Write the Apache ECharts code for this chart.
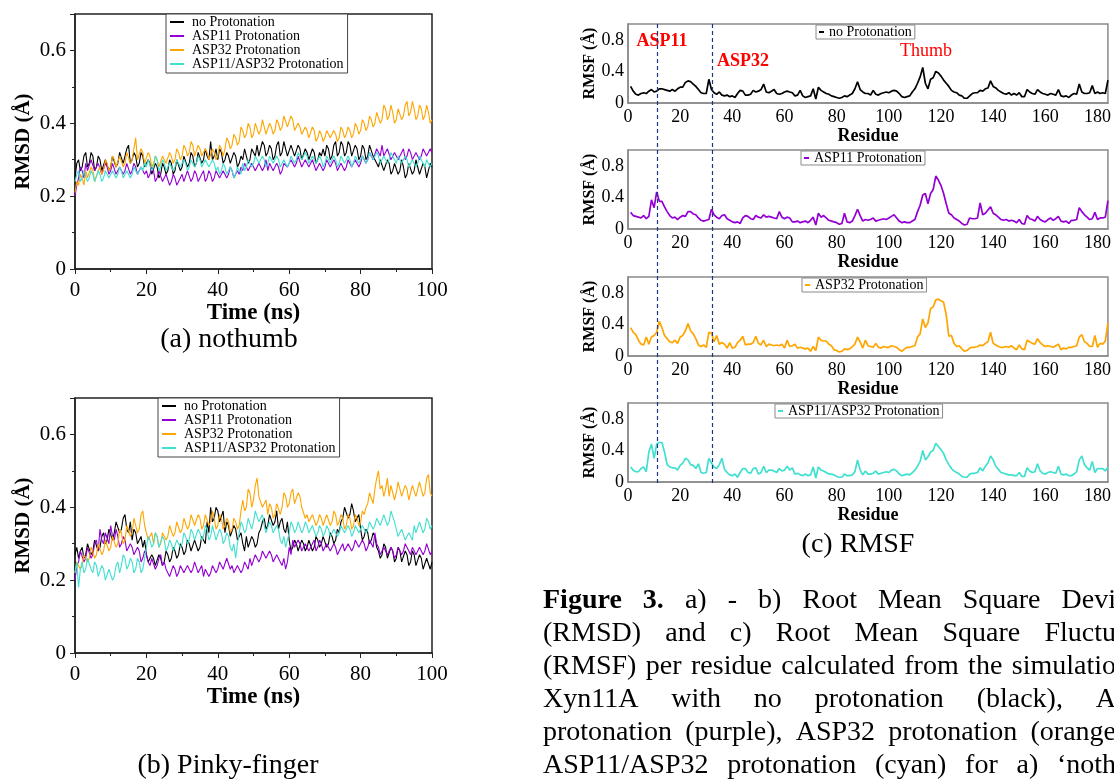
<!DOCTYPE html>
<html><head><meta charset="utf-8">
<script src="https://cdn.jsdelivr.net/npm/echarts@6/dist/echarts.min.js"></script>
<style>html,body{margin:0;padding:0;background:#fff}#c{width:1114px;height:780px}</style>
</head><body><div id="c"></div>
<script>
// ---------- DATA ----------
const seriesNames = ['no Protonation','ASP11 Protonation','ASP32 Protonation','ASP11/ASP32 Protonation'];
const timeNs = Array.from({length:201},(_,i)=>i/2);    // sampling grid, every 0.5 ns
const residues = Array.from({length:184},(_,i)=>i+1);  // residue numbers

// (a) nothumb RMSD (Å)
const rmsdA_none = [.25,.29,.30,.27,.28,.31,.32,.28,.29,.32,.31,.27,.28,.31,.30,.27,.27,.30,.30,.27,
 .28,.31,.31,.28,.29,.32,.32,.29,.29,.33,.34,.29,.30,.32,.31,.28,.29,.32,.31,.28,
 .28,.30,.29,.26,.26,.29,.28,.25,.26,.29,.28,.26,.27,.30,.29,.26,.27,.30,.30,.27,
 .28,.31,.31,.28,.29,.32,.31,.28,.29,.32,.32,.29,.30,.33,.31,.30,.35,.30,.31,.33,
 .30,.33,.32,.29,.30,.32,.31,.29,.29,.32,.31,.28,.29,.31,.30,.33,.31,.29,.30,.33,
 .32,.31,.34,.31,.31,.35,.34,.31,.32,.34,.33,.30,.31,.34,.35,.31,.32,.35,.33,.31,
 .31,.34,.34,.31,.31,.34,.33,.30,.30,.33,.32,.30,.30,.33,.32,.29,.30,.32,.31,.33,
 .31,.34,.33,.30,.31,.34,.35,.31,.32,.35,.34,.31,.32,.35,.34,.31,.31,.34,.33,.30,
 .31,.34,.33,.30,.31,.34,.34,.31,.31,.29,.28,.30,.30,.27,.27,.30,.29,.26,.27,.29,
 .29,.26,.27,.30,.28,.25,.26,.29,.29,.26,.27,.30,.28,.26,.26,.29,.28,.25,.25,.29,.28];
const rmsdA_asp11 = [.20,.23,.25,.28,.27,.25,.29,.27,.27,.30,.30,.27,.27,.29,.29,.26,.26,.29,.28,.26,
 .27,.29,.29,.26,.26,.28,.28,.26,.27,.29,.29,.26,.27,.29,.28,.26,.26,.28,.28,.26,
 .27,.25,.26,.28,.27,.24,.25,.27,.27,.24,.24,.26,.26,.23,.24,.26,.25,.23,.23,.25,
 .26,.24,.24,.27,.27,.24,.25,.27,.26,.24,.24,.26,.27,.24,.25,.27,.26,.24,.25,.27,
 .27,.25,.25,.27,.27,.25,.26,.28,.27,.25,.25,.27,.26,.28,.27,.29,.29,.27,.27,.29,
 .29,.27,.27,.29,.29,.27,.28,.30,.27,.29,.29,.27,.27,.29,.28,.26,.27,.29,.29,.28,
 .28,.30,.30,.28,.29,.31,.31,.28,.28,.30,.30,.28,.28,.30,.30,.27,.27,.29,.29,.27,
 .28,.30,.30,.28,.28,.30,.29,.27,.27,.29,.29,.27,.28,.30,.30,.28,.28,.30,.30,.28,
 .29,.31,.31,.29,.30,.32,.32,.30,.30,.33,.33,.31,.34,.31,.31,.33,.33,.30,.30,.32,
 .32,.30,.30,.32,.33,.30,.31,.33,.32,.30,.30,.32,.32,.30,.31,.33,.33,.31,.31,.33,.32];
const rmsdA_asp32 = [.21,.24,.23,.26,.25,.23,.27,.25,.25,.28,.27,.24,.24,.27,.28,.26,.27,.30,.29,.27,
 .28,.31,.30,.28,.28,.31,.31,.28,.29,.32,.32,.29,.30,.33,.36,.30,.30,.33,.32,.29,
 .29,.32,.31,.28,.29,.31,.30,.28,.28,.31,.31,.29,.29,.32,.31,.29,.30,.33,.32,.30,
 .31,.34,.33,.31,.32,.35,.34,.31,.31,.34,.33,.31,.31,.33,.32,.30,.30,.33,.32,.30,
 .31,.34,.33,.31,.33,.36,.35,.33,.34,.37,.36,.34,.35,.39,.38,.36,.37,.40,.39,.36,
 .37,.40,.40,.37,.38,.41,.39,.37,.37,.40,.39,.37,.38,.41,.40,.38,.39,.42,.42,.39,
 .39,.42,.41,.38,.38,.40,.39,.37,.37,.39,.38,.36,.36,.39,.38,.35,.36,.38,.37,.35,
 .36,.38,.38,.36,.36,.38,.37,.35,.36,.39,.38,.36,.37,.39,.38,.36,.37,.40,.39,.37,
 .38,.41,.40,.38,.39,.42,.41,.39,.40,.43,.43,.40,.41,.45,.44,.41,.42,.45,.43,.40,
 .41,.44,.44,.41,.42,.45,.46,.42,.43,.46,.44,.41,.42,.45,.44,.41,.42,.45,.43,.40,.41];
const rmsdA_both = [.24,.26,.27,.24,.25,.27,.27,.24,.25,.27,.26,.24,.24,.27,.26,.24,.25,.27,.27,.25,
 .25,.27,.27,.25,.26,.28,.27,.25,.25,.27,.27,.25,.26,.28,.28,.26,.26,.28,.27,.29,
 .28,.30,.30,.27,.28,.31,.30,.27,.28,.30,.29,.27,.27,.29,.29,.27,.28,.30,.30,.28,
 .28,.30,.29,.27,.28,.30,.30,.28,.29,.31,.30,.28,.28,.30,.30,.28,.28,.30,.29,.27,
 .28,.26,.27,.29,.28,.26,.26,.28,.27,.25,.26,.28,.28,.26,.29,.27,.28,.30,.30,.28,
 .29,.31,.31,.29,.29,.31,.30,.28,.29,.31,.31,.29,.29,.31,.30,.28,.28,.30,.30,.28,
 .29,.31,.31,.29,.30,.32,.32,.30,.30,.32,.31,.29,.29,.31,.31,.29,.29,.31,.30,.28,
 .29,.31,.31,.29,.29,.31,.30,.28,.29,.31,.31,.29,.29,.31,.30,.28,.29,.31,.31,.29,
 .29,.31,.31,.29,.30,.32,.32,.30,.30,.32,.31,.29,.29,.31,.31,.29,.30,.32,.32,.30,
 .29,.31,.31,.29,.29,.31,.30,.28,.28,.30,.30,.28,.29,.31,.31,.29,.28,.30,.30,.28,.29];

// (b) Pinky-finger RMSD (Å)
const rmsdB_none = [.27,.29,.26,.28,.29,.26,.27,.30,.30,.27,.28,.31,.31,.28,.29,.32,.33,.30,.31,.34,
 .34,.31,.33,.36,.36,.33,.34,.37,.38,.34,.33,.36,.31,.34,.33,.30,.30,.32,.29,.31,
 .27,.25,.25,.27,.26,.24,.24,.27,.26,.24,.25,.28,.27,.25,.26,.29,.28,.26,.27,.30,
 .29,.27,.28,.31,.30,.28,.28,.31,.31,.28,.29,.32,.32,.30,.36,.33,.40,.36,.37,.40,
 .39,.36,.36,.39,.33,.36,.35,.32,.32,.35,.34,.31,.31,.33,.30,.28,.32,.29,.29,.32,
 .31,.29,.30,.33,.34,.36,.37,.34,.35,.38,.38,.35,.36,.39,.34,.36,.37,.34,.33,.36,
 .31,.28,.29,.31,.30,.28,.28,.31,.30,.28,.29,.31,.31,.28,.29,.32,.31,.29,.30,.32,
 .32,.29,.30,.33,.32,.30,.31,.34,.33,.36,.37,.40,.40,.37,.38,.41,.39,.36,.36,.38,
 .34,.31,.32,.34,.33,.30,.31,.33,.32,.29,.28,.26,.27,.30,.29,.26,.26,.29,.28,.25,
 .26,.29,.28,.25,.25,.28,.27,.24,.25,.28,.27,.24,.24,.27,.26,.23,.23,.26,.26,.23,.25];
const rmsdB_asp11 = [.20,.24,.25,.28,.28,.25,.26,.29,.29,.26,.27,.30,.31,.28,.34,.31,.30,.33,.33,.30,
 .35,.32,.31,.34,.32,.29,.30,.32,.31,.28,.28,.30,.29,.27,.27,.29,.28,.25,.26,.28,
 .27,.25,.24,.26,.26,.23,.24,.26,.27,.24,.25,.23,.23,.21,.21,.24,.23,.21,.22,.24,
 .24,.22,.22,.24,.24,.22,.23,.25,.25,.22,.22,.24,.21,.23,.23,.21,.22,.24,.24,.22,
 .23,.25,.25,.23,.23,.26,.26,.23,.24,.22,.22,.24,.24,.22,.23,.25,.25,.23,.26,.24,
 .24,.27,.27,.25,.26,.28,.28,.26,.26,.28,.27,.25,.25,.27,.27,.25,.24,.26,.23,.25,
 .29,.27,.31,.29,.29,.31,.30,.28,.28,.30,.30,.28,.28,.30,.31,.28,.29,.31,.30,.28,
 .28,.30,.30,.28,.28,.30,.29,.27,.27,.29,.30,.28,.28,.30,.30,.28,.29,.31,.31,.29,
 .29,.31,.30,.28,.29,.31,.31,.29,.33,.30,.29,.27,.27,.29,.29,.27,.27,.29,.28,.26,
 .27,.29,.29,.27,.28,.30,.30,.28,.27,.29,.29,.27,.27,.29,.29,.27,.28,.30,.30,.27,.28];
const rmsdB_asp32 = [.22,.25,.25,.23,.24,.27,.27,.25,.26,.29,.28,.26,.27,.30,.30,.27,.28,.31,.31,.28,
 .29,.32,.32,.29,.30,.34,.33,.30,.31,.35,.35,.32,.33,.37,.37,.33,.34,.38,.39,.35,
 .33,.31,.31,.33,.30,.33,.32,.29,.30,.33,.33,.31,.32,.35,.35,.32,.33,.36,.36,.33,
 .34,.37,.37,.34,.35,.38,.38,.35,.35,.38,.37,.34,.35,.38,.38,.35,.36,.39,.37,.34,
 .35,.38,.37,.34,.35,.37,.36,.33,.34,.37,.36,.34,.35,.39,.42,.39,.40,.45,.44,.40,
 .42,.46,.48,.43,.43,.40,.40,.42,.38,.41,.40,.37,.38,.41,.41,.38,.40,.44,.43,.40,
 .41,.44,.45,.41,.41,.44,.43,.40,.40,.37,.38,.36,.36,.38,.38,.35,.36,.38,.37,.35,
 .35,.38,.38,.35,.36,.39,.38,.35,.36,.38,.37,.34,.35,.38,.37,.34,.35,.38,.37,.35,
 .36,.39,.38,.40,.41,.44,.44,.41,.45,.48,.50,.45,.46,.43,.45,.48,.43,.46,.46,.42,
 .44,.47,.47,.43,.43,.46,.45,.42,.42,.46,.46,.43,.43,.47,.47,.43,.44,.48,.49,.44,.43];
const rmsdB_both = [.22,.25,.18,.23,.25,.22,.23,.26,.26,.23,.22,.25,.24,.21,.21,.24,.23,.20,.20,.23,
 .23,.20,.21,.24,.25,.22,.24,.27,.26,.23,.24,.26,.25,.22,.23,.26,.25,.22,.23,.26,
 .29,.32,.31,.29,.30,.33,.32,.29,.29,.32,.31,.28,.29,.31,.30,.28,.28,.31,.31,.29,
 .30,.33,.32,.30,.31,.34,.33,.31,.31,.34,.33,.31,.32,.35,.34,.31,.32,.35,.33,.31,
 .31,.34,.33,.30,.31,.33,.32,.29,.28,.30,.26,.30,.33,.36,.35,.33,.34,.37,.37,.34,
 .36,.39,.39,.36,.36,.38,.35,.33,.33,.36,.35,.33,.33,.35,.34,.31,.30,.32,.29,.31,
 .33,.36,.35,.33,.34,.36,.36,.33,.34,.36,.35,.33,.33,.35,.35,.32,.33,.35,.34,.32,
 .33,.35,.34,.32,.32,.34,.34,.32,.33,.35,.35,.33,.33,.35,.34,.32,.33,.35,.35,.33,
 .33,.35,.35,.33,.34,.36,.36,.34,.35,.37,.37,.35,.35,.38,.38,.35,.36,.39,.39,.36,
 .34,.32,.32,.34,.34,.31,.31,.33,.33,.31,.35,.33,.33,.36,.36,.33,.34,.37,.36,.34,.35];

// (c) RMSF per residue (Å)
const rmsf_none = [.21,.15,.11,.10,.12,.13,.12,.15,.17,.14,.15,.18,.18,.17,.16,.15,.17,.15,.18,.20,.20,.26,.28,.27,.24,.21,.17,.13,.12,.12,.30,.17,.13,.11,.14,.10,.09,.10,.08,.09,.07,.12,.16,.15,.10,.10,.11,.16,.14,.15,.17,.24,.14,.13,.15,.17,.12,.11,.12,.14,.15,.14,.13,.09,.10,.16,.09,.07,.08,.09,.18,.05,.20,.16,.14,.12,.11,.09,.08,.07,.06,.07,.09,.08,.10,.12,.18,.27,.17,.14,.12,.12,.10,.16,.11,.10,.12,.13,.14,.13,.15,.16,.15,.12,.08,.07,.08,.09,.14,.18,.25,.33,.45,.25,.18,.30,.32,.40,.38,.34,.29,.25,.21,.16,.14,.13,.10,.09,.06,.06,.09,.12,.13,.13,.16,.15,.18,.19,.28,.21,.19,.16,.14,.12,.11,.13,.10,.12,.10,.13,.08,.08,.17,.14,.12,.11,.17,.14,.12,.11,.10,.12,.11,.10,.17,.09,.08,.09,.07,.10,.12,.11,.24,.14,.12,.12,.13,.22,.12,.14,.12,.13,.12,.29];
const rmsf_asp11 = [.21,.17,.16,.15,.14,.17,.13,.16,.37,.27,.47,.35,.35,.28,.22,.17,.14,.15,.12,.15,.17,.16,.22,.22,.19,.18,.14,.11,.10,.11,.12,.25,.18,.15,.13,.17,.18,.13,.11,.09,.08,.09,.07,.14,.17,.16,.13,.12,.17,.15,.14,.18,.15,.16,.15,.14,.13,.22,.15,.13,.15,.14,.09,.09,.10,.08,.09,.10,.08,.11,.15,.05,.20,.15,.17,.14,.11,.10,.09,.08,.06,.07,.20,.09,.08,.10,.17,.25,.17,.10,.12,.11,.12,.14,.10,.11,.12,.13,.12,.14,.16,.18,.14,.10,.08,.09,.08,.08,.10,.12,.22,.30,.43,.45,.32,.45,.50,.67,.62,.55,.45,.32,.20,.18,.14,.12,.10,.07,.05,.06,.14,.13,.13,.14,.33,.18,.20,.24,.28,.20,.18,.15,.12,.11,.12,.10,.11,.10,.08,.12,.07,.06,.17,.13,.12,.10,.16,.12,.10,.09,.12,.14,.11,.13,.16,.10,.09,.10,.07,.11,.11,.12,.27,.22,.18,.15,.12,.13,.21,.12,.14,.14,.15,.36];
const rmsf_asp32 = [.36,.30,.27,.20,.15,.14,.24,.15,.24,.26,.30,.44,.36,.26,.22,.18,.17,.20,.16,.24,.26,.32,.41,.32,.28,.22,.14,.12,.14,.11,.30,.29,.18,.26,.15,.17,.15,.10,.17,.10,.11,.17,.20,.25,.14,.15,.15,.17,.25,.16,.14,.20,.12,.15,.14,.13,.14,.13,.15,.10,.20,.12,.13,.15,.10,.11,.10,.09,.10,.06,.12,.07,.24,.20,.19,.19,.15,.13,.08,.07,.05,.06,.09,.08,.09,.12,.15,.24,.18,.10,.20,.13,.12,.11,.16,.11,.10,.12,.11,.11,.13,.12,.11,.08,.06,.09,.11,.11,.12,.13,.24,.28,.47,.36,.42,.60,.62,.71,.72,.70,.68,.52,.25,.26,.16,.12,.13,.09,.06,.07,.10,.11,.11,.12,.14,.13,.16,.18,.30,.16,.14,.12,.11,.11,.12,.11,.13,.10,.08,.14,.09,.08,.20,.18,.16,.15,.22,.17,.14,.12,.13,.12,.11,.13,.15,.08,.10,.09,.11,.11,.12,.13,.24,.27,.18,.16,.12,.12,.26,.11,.16,.15,.19,.42];
const rmsf_both = [.19,.15,.13,.13,.17,.19,.13,.38,.48,.30,.48,.50,.50,.38,.22,.19,.18,.18,.15,.21,.24,.30,.28,.22,.21,.17,.23,.12,.11,.12,.30,.24,.19,.17,.22,.30,.16,.12,.09,.08,.10,.06,.12,.17,.17,.12,.11,.17,.18,.10,.12,.20,.12,.15,.15,.14,.12,.17,.14,.15,.20,.15,.18,.10,.11,.09,.08,.10,.08,.09,.19,.05,.19,.15,.14,.12,.10,.10,.09,.07,.06,.06,.10,.08,.08,.09,.13,.28,.15,.09,.14,.10,.10,.11,.14,.10,.11,.12,.13,.12,.15,.16,.14,.10,.08,.09,.10,.09,.12,.15,.20,.26,.40,.28,.32,.38,.40,.49,.45,.41,.36,.28,.22,.17,.14,.12,.10,.07,.06,.06,.10,.11,.11,.12,.18,.14,.20,.24,.33,.28,.20,.16,.12,.11,.10,.09,.09,.08,.08,.12,.07,.07,.18,.14,.12,.13,.23,.14,.11,.10,.12,.13,.12,.11,.20,.10,.09,.10,.08,.08,.10,.13,.28,.33,.22,.18,.15,.26,.12,.17,.17,.17,.14,.19];

const rmsdYTicks = {min:0, max:0.7, interval:0.2};
const rmsfYTicks = {min:0, max:1.0, interval:0.4};
const timeTicks = {min:0, max:100, interval:20};
const residueTicks = {min:0, max:184, interval:20};
const markedResidues = [11, 32];

// ---------- STYLE ----------
const SERIF = '"Liberation Serif","Times New Roman",serif';
const colors = ['#000000','#9400D3','#FFA500','#40E0D0'];

const grids = [
  {left:75, top:14, width:357, height:255},
  {left:75, top:398, width:357, height:255},
  {left:628, top:24, width:484, height:79},
  {left:628, top:150, width:484, height:79},
  {left:628, top:277, width:484, height:79},
  {left:628, top:403, width:484, height:79},
  {left:628, top:24, width:484, height:459}
].map((g,i)=>Object.assign(g, i<2 ? {show:true, borderColor:'#222', borderWidth:1.5, backgroundColor:'transparent'}
                                  : i<6 ? {show:true, borderColor:'#8a8a8a', borderWidth:1.5, backgroundColor:'transparent'} : {show:false}));

const xAxes = [], yAxes = [];
for (let g=0; g<2; g++) {
  xAxes.push({type:'value', gridIndex:g, ...timeTicks, name:'Time (ns)', nameLocation:'middle', nameGap:33,
    nameTextStyle:{fontFamily:SERIF, fontWeight:'bold', fontSize:23, color:'#000'},
    axisLine:{onZero:false, lineStyle:{color:'#222', width:1.5}},
    axisTick:{show:true, inside:false, length:5, lineStyle:{color:'#222'}},
    minorTick:{show:true, splitNumber:2, length:3, lineStyle:{color:'#222'}},
    axisLabel:{fontFamily:SERIF, fontSize:21, color:'#000', margin:11},
    splitLine:{show:false}});
  yAxes.push({type:'value', gridIndex:g, ...rmsdYTicks, name:'RMSD (Å)', nameLocation:'middle', nameGap:41,
    nameTextStyle:{fontFamily:SERIF, fontWeight:'bold', fontSize:21, color:'#000'},
    axisLine:{onZero:false, lineStyle:{color:'#222', width:1.5}},
    axisTick:{show:true, inside:false, length:5, lineStyle:{color:'#222'}},
    minorTick:{show:true, splitNumber:2, length:3, lineStyle:{color:'#222'}},
    axisLabel:{fontFamily:SERIF, fontSize:21, color:'#000', margin:9, showMaxLabel:false},
    splitLine:{show:false}});
}
for (let g=2; g<6; g++) {
  xAxes.push({type:'value', gridIndex:g, ...residueTicks, name:'Residue', nameLocation:'middle', nameGap:17,
    nameTextStyle:{fontFamily:SERIF, fontWeight:'bold', fontSize:18, color:'#000'},
    axisLine:{onZero:false, lineStyle:{color:'#8a8a8a', width:1.5}}, axisTick:{show:false},
    axisLabel:{fontFamily:SERIF, fontSize:18, color:'#000', margin:5, showMaxLabel:false},
    splitLine:{show:false}});
  yAxes.push({type:'value', gridIndex:g, ...rmsfYTicks, name:'RMSF (Å)', nameLocation:'middle', nameGap:25,
    nameTextStyle:{fontFamily:SERIF, fontWeight:'bold', fontSize:16, color:'#000'},
    axisLine:{onZero:false, lineStyle:{color:'#8a8a8a', width:1.5}}, axisTick:{show:false},
    axisLabel:{fontFamily:SERIF, fontSize:18, color:'#000', margin:4, showMaxLabel:false},
    splitLine:{show:false}});
}
xAxes.push({type:'value', gridIndex:6, ...residueTicks, show:false});
yAxes.push({type:'value', gridIndex:6, min:0, max:1, show:false});

const pair = (xs, ys) => ys.map((v,i)=>[xs[i], v]);
const series = [];
const rmsdA = [rmsdA_none, rmsdA_asp11, rmsdA_asp32, rmsdA_both];
const rmsdB = [rmsdB_none, rmsdB_asp11, rmsdB_asp32, rmsdB_both];
const rmsf = [rmsf_none, rmsf_asp11, rmsf_asp32, rmsf_both];
[rmsdA, rmsdB].forEach((set, g) => set.forEach((ys, k) => series.push({
  type:'line', name:seriesNames[k], xAxisIndex:g, yAxisIndex:g, data:pair(timeNs, ys),
  showSymbol:false, symbol:'none', color:colors[k], lineStyle:{width:1.1, color:colors[k]}, silent:true
})));
rmsf.forEach((ys, k) => series.push({
  type:'line', name:seriesNames[k], xAxisIndex:2+k, yAxisIndex:2+k, data:pair(residues, ys),
  showSymbol:false, symbol:'none', color:colors[k], lineStyle:{width:1.7, color:colors[k]}, silent:true
}));
series.push({type:'line', xAxisIndex:6, yAxisIndex:6, data:[], silent:true,
  markLine:{symbol:['none','none'], silent:true, label:{show:false}, animation:false,
    lineStyle:{type:[4,3], color:'#1d3580', width:1.2},
    data: markedResidues.map(r=>({xAxis:r}))}});

const rmsdLegend = (left, top) => ({left, top, orient:'vertical', data:seriesNames, icon:'rect',
  itemWidth:14, itemHeight:2, itemGap:0, padding:[1,4,2,4], borderColor:'#444', borderWidth:1,
  backgroundColor:'#fff', selectedMode:false,
  textStyle:{fontFamily:SERIF, fontSize:14, color:'#000', lineHeight:14, padding:[0,0,0,3]}});
const rmsfLegend = (name, left, top) => ({left, top, data:[name], icon:'rect', itemWidth:5, itemHeight:2,
  padding:[0,3,0,3], borderColor:'#8a8a8a', borderWidth:1, backgroundColor:'#fff', selectedMode:false,
  textStyle:{fontFamily:SERIF, fontSize:14, color:'#000', lineHeight:13}});

// ---------- TEXT / CAPTIONS ----------
const captionLines = [
  [['Figure',1],['3.',1],['a)',0],['-',0],['b)',0],['Root',0],['Mean',0],['Square',0],['Devi',0]],
  [['(RMSD)',0],['and',0],['c)',0],['Root',0],['Mean',0],['Square',0],['Fluctu',0]],
  [['(RMSF)',0],['per',0],['residue',0],['calculated',0],['from',0],['the',0],['simulatio',0]],
  [['Xyn11A',0],['with',0],['no',0],['protonation',0],['(black),',0],['A',0]],
  [['protonation',0],['(purple),',0],['ASP32',0],['protonation',0],['(orange',0]],
  [['ASP11/ASP32',0],['protonation',0],['(cyan)',0],['for',0],['a)',0],['‘noth',0]]
];
const graphic = [];
const addText = (text, x, y, font, color, align) => graphic.push({type:'text', x, y, silent:true,
  style:{text, font, fill:color||'#000', align:align||'center', verticalAlign:'middle'}});
const F28 = '28px "Liberation Serif"';
addText('(a) nothumb', 229, 340, F28);
addText('(b) Pinky-finger', 228, 766, F28);
addText('(c) RMSF', 858, 545, F28);
addText('ASP11', 662, 41, 'bold 18px "Liberation Serif"', '#ff0000');
addText('ASP32', 743, 61, 'bold 18px "Liberation Serif"', '#ff0000');
addText('Thumb', 926, 51, '18px "Liberation Serif"', '#ff0000');

const ctx = document.createElement('canvas').getContext('2d');
const x0 = 543, xR = 1116, lineMid0 = 601, lineStep = 33;
captionLines.forEach((words, li) => {
  const fonts = words.map(w => (w[1] ? 'bold ' : '') + F28);
  const widths = words.map((w,i) => { ctx.font = fonts[i]; return ctx.measureText(w[0]).width; });
  const total = widths.reduce((a,b)=>a+b,0);
  const gap = (xR - x0 - total) / (words.length - 1);
  let x = x0;
  words.forEach((w,i) => { addText(w[0], x, lineMid0 + li*lineStep, fonts[i], '#000', 'left'); x += widths[i] + gap; });
});

const chart = echarts.init(document.getElementById('c'), null, {renderer:'canvas'});
chart.setOption({
  animation:false, backgroundColor:'#fff',
  grid:grids, xAxis:xAxes, yAxis:yAxes, series,
  legend:[rmsdLegend(166,14), rmsdLegend(158,398),
    rmsfLegend(seriesNames[0],816,25), rmsfLegend(seriesNames[1],801,151),
    rmsfLegend(seriesNames[2],802,278), rmsfLegend(seriesNames[3],775,404)],
  graphic
});
</script></body></html>
